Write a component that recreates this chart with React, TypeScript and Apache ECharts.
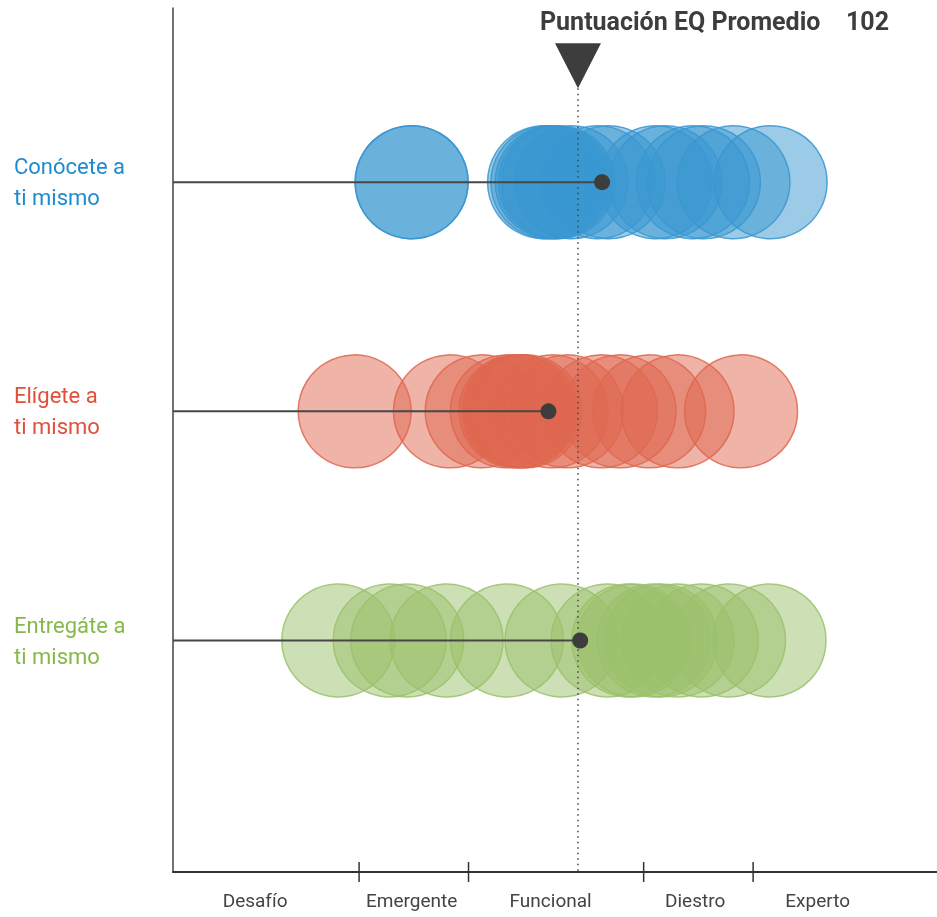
import React, { useEffect, useRef } from "react";
import * as echarts from "echarts";

// ---- data ----
const X_MIN = 65;
const X_MAX = 134.8;
const ROW_NAMES = ["Conócete a\nti mismo", "Elígete a\nti mismo", "Entregáte a\nti mismo"];
const ROW_Y = [3, 2, 1];
const ROW_COLORS = ["#3997d1", "#df674f", "#9bc16b"];
const ROW_LABEL_COLORS = ["#1e8ccc", "#e0503a", "#86b84b"];
const conoceteScores = [86.8, 86.8, 98.9, 99.2, 99.6, 99.9, 100.2, 101.4, 103.8, 104.8, 109.1, 110.0, 112.5, 113.5, 116.2, 119.6];
const eligeteScores = [81.6, 90.3, 93.2, 95.5, 96.3, 96.6, 96.8, 97.2, 99.6, 101.0, 104.1, 105.8, 108.5, 111.1, 116.9];
const entregateScores = [80.1, 84.8, 86.4, 90.0, 95.5, 100.5, 104.7, 106.6, 107.1, 108.9, 109.6, 111.1, 113.3, 115.8, 119.5];
const ROW_SCORES = [conoceteScores, eligeteScores, entregateScores];
const ROW_MEANS = [104.2, 99.3, 102.2];
const AVG_EQ = 102;
const TITLE = "Puntuación EQ Promedio";
const STAGE_LABELS = ["Desafío", "Emergente", "Funcional", "Diestro", "Experto"];
const STAGE_LABEL_POS = [72.5, 86.8, 99.5, 112.7, 123.9];
const STAGE_BOUNDS = [82, 92, 108, 118];
const Y_MIN = -0.01;
const Y_MAX = 3.76;
const TRI_APEX = 3.41;

const FONT = "Roboto, 'Noto Sans', sans-serif";

function hexA(hex: string, a: number) {
  const n = parseInt(hex.slice(1), 16);
  return `rgba(${(n >> 16) & 255},${(n >> 8) & 255},${n & 255},${a})`;
}

function nearestIndex(list: number[], v: number) {
  let best = 0;
  list.forEach((p, k) => {
    if (Math.abs(p - v) < Math.abs(list[best] - v)) best = k;
  });
  return best;
}

export default function App() {
  const ref = useRef<HTMLDivElement>(null);
  useEffect(() => {
    const chart = echarts.init(ref.current!, null, { renderer: "svg" });

    const circleSeries = ROW_SCORES.map((scores, i) => ({
      type: "scatter",
      silent: true,
      symbol: "circle",
      symbolSize: 113,
      data: scores.map((v) => [v, ROW_Y[i]]),
      itemStyle: {
        opacity: 1,
        color: hexA(ROW_COLORS[i], 0.5),
        borderColor: hexA(ROW_COLORS[i], 0.85),
        borderWidth: 1.5,
      },
      z: 2,
    }));

    const meanLines = ROW_MEANS.map((m, i) => ({
      type: "line",
      silent: true,
      symbol: "none",
      data: [[X_MIN, ROW_Y[i]], [m, ROW_Y[i]]],
      lineStyle: { color: "#474747", width: 2 },
      z: 5,
    }));

    const option = {
      animation: false,
      grid: { left: 173, right: 0, top: 8, bottom: 45 },
      xAxis: {
        type: "value",
        min: X_MIN,
        max: X_MAX,
        splitLine: { show: false },
        axisLine: { show: true, onZero: false, lineStyle: { color: "#333", width: 2 } },
        axisTick: { show: false },
        axisLabel: {
          customValues: STAGE_LABEL_POS,
          margin: 19,
          fontSize: 19,
          fontFamily: FONT,
          color: "#444",
          formatter: (v: number) => STAGE_LABELS[nearestIndex(STAGE_LABEL_POS, v)],
        },
      },
      yAxis: {
        type: "value",
        min: Y_MIN,
        max: Y_MAX,
        splitLine: { show: false },
        axisTick: { show: false },
        axisLine: { show: true, onZero: false, lineStyle: { color: "#444", width: 1.5 } },
        axisLabel: {
          customValues: ROW_Y,
          align: "left",
          margin: 159,
          fontSize: 22,
          lineHeight: 31,
          padding: [4, 0, 0, 0],
          fontFamily: FONT,
          formatter: (v: number) => ROW_NAMES[nearestIndex(ROW_Y, v)],
          color: (v: any) => ROW_LABEL_COLORS[nearestIndex(ROW_Y, Number(v))],
        },
      },
      graphic: [
        {
          type: "text",
          left: 540,
          top: 9,
          style: { text: TITLE, fontSize: 25, fontWeight: "bold", fontFamily: FONT, fill: "#3d3d3d" },
        },
        {
          type: "text",
          left: 846,
          top: 9,
          style: { text: String(AVG_EQ), fontSize: 25, fontWeight: "bold", fontFamily: FONT, fill: "#3d3d3d" },
        },
      ],
      series: [
        ...circleSeries,
        {
          type: "custom",
          silent: true,
          z: 4,
          data: [[AVG_EQ, TRI_APEX]],
          renderItem: (params: any, api: any) => {
            const top = api.coord([api.value(0), api.value(1)]);
            const bottom = api.coord([api.value(0), Y_MIN]);
            return {
              type: "group",
              children: [
                {
                  type: "line",
                  shape: { x1: top[0], y1: top[1], x2: bottom[0], y2: bottom[1] },
                  style: { stroke: "#444", lineWidth: 1.5, lineDash: [1.5, 4] },
                },
                {
                  type: "polygon",
                  shape: { points: [[top[0] - 23, top[1] - 45], [top[0] + 23, top[1] - 45], [top[0], top[1]]] },
                  style: { fill: "#3d3d3d" },
                },
              ],
            };
          },
        },
        {
          type: "custom",
          silent: true,
          z: 4,
          data: STAGE_BOUNDS.map((v) => [v, Y_MIN]),
          renderItem: (params: any, api: any) => {
            const p = api.coord([api.value(0), api.value(1)]);
            return {
              type: "line",
              shape: { x1: p[0], y1: p[1] - 10, x2: p[0], y2: p[1] + 10 },
              style: { stroke: "#333", lineWidth: 1.5 },
            };
          },
        },
        ...meanLines,
        {
          type: "scatter",
          silent: true,
          symbolSize: 16,
          data: ROW_MEANS.map((m, i) => [m, ROW_Y[i]]),
          itemStyle: { color: "#3d3d3d", opacity: 1 },
          z: 6,
        },
      ],
    };
    chart.setOption(option as any);
    return () => chart.dispose();
  }, []);
  return <div ref={ref} style={{ position: "fixed", left: 0, top: 0, width: 937, height: 917 }} />;
}
